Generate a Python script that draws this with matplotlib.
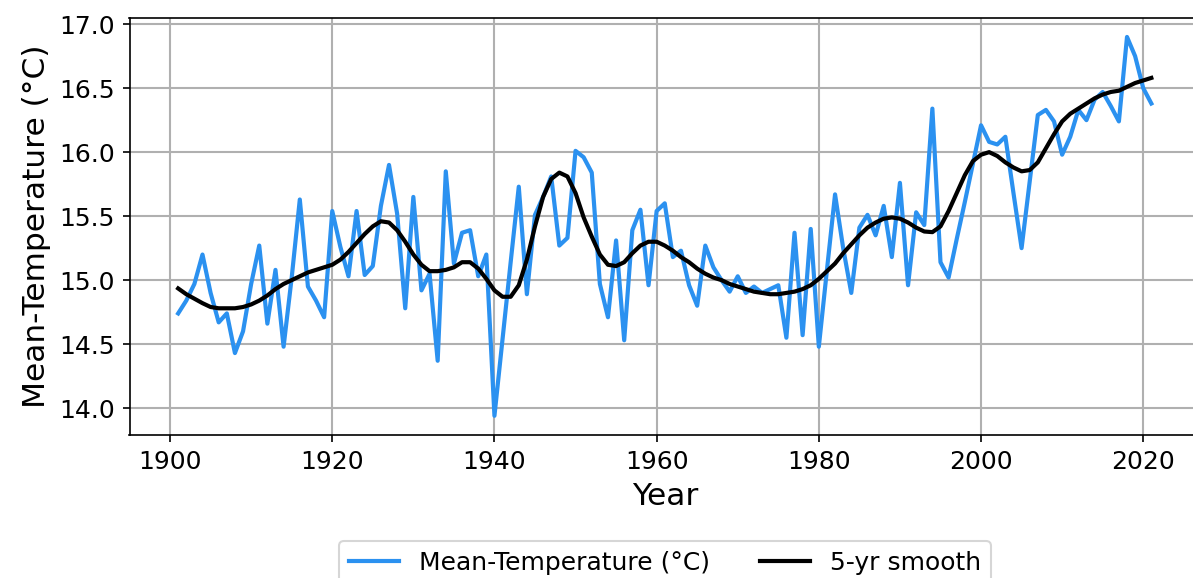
import matplotlib
matplotlib.use("Agg")
import matplotlib.pyplot as plt
import numpy as np

years = list(range(1901, 2022))

mean_temp = [
    14.74, 14.84, 14.97, 15.20, 14.90, 14.67, 14.74, 14.43, 14.60, 14.97,  # 1901-1910
    15.27, 14.66, 15.08, 14.48, 15.02, 15.63, 14.95, 14.84, 14.71, 15.54,  # 1911-1920
    15.26, 15.03, 15.54, 15.04, 15.11, 15.58, 15.90, 15.52, 14.78, 15.65,  # 1921-1930
    14.92, 15.05, 14.37, 15.85, 15.13, 15.37, 15.39, 15.03, 15.20, 13.94,  # 1931-1940
    14.54, 15.14, 15.73, 14.89, 15.51, 15.65, 15.81, 15.27, 15.33, 16.01,  # 1941-1950
    15.96, 15.84, 14.97, 14.71, 15.31, 14.53, 15.39, 15.55, 14.96, 15.54,  # 1951-1960
    15.60, 15.18, 15.23, 14.96, 14.80, 15.27, 15.10, 15.00, 14.91, 15.03,  # 1961-1970
    14.90, 14.95, 14.90, 14.93, 14.96, 14.55, 15.37, 14.57, 15.40, 14.48,  # 1971-1980
    15.08, 15.67, 15.25, 14.90, 15.41, 15.51, 15.35, 15.58, 15.18, 15.76,  # 1981-1990
    14.96, 15.53, 15.43, 16.34, 15.14, 15.02, 15.32, 15.61, 15.91, 16.21,  # 1991-2000
    16.08, 16.06, 16.12, 15.68, 15.25, 15.77, 16.29, 16.33, 16.24, 15.98,  # 2001-2010
    16.12, 16.33, 16.25, 16.41, 16.47, 16.36, 16.24, 16.90, 16.75, 16.50,  # 2011-2020
    16.38,                                                                  # 2021
]

smooth_5yr = [
    14.935, 14.89, 14.855, 14.82, 14.79, 14.78, 14.78, 14.78, 14.79, 14.81,  # 1901-1910
    14.84, 14.88, 14.93, 14.97, 15.00, 15.03, 15.06, 15.08, 15.10, 15.12,    # 1911-1920
    15.16, 15.22, 15.29, 15.36, 15.42, 15.46, 15.45, 15.39, 15.30, 15.20,    # 1921-1930
    15.12, 15.07, 15.07, 15.08, 15.10, 15.14, 15.14, 15.09, 15.01, 14.92,    # 1931-1940
    14.87, 14.87, 14.96, 15.16, 15.42, 15.65, 15.79, 15.84, 15.81, 15.68,    # 1941-1950
    15.49, 15.34, 15.20, 15.12, 15.11, 15.14, 15.21, 15.27, 15.30, 15.30,    # 1951-1960
    15.27, 15.23, 15.18, 15.14, 15.09, 15.05, 15.02, 15.00, 14.97, 14.95,    # 1961-1970
    14.93, 14.91, 14.90, 14.89, 14.89, 14.90, 14.91, 14.93, 14.96, 15.01,    # 1971-1980
    15.07, 15.13, 15.21, 15.28, 15.35, 15.41, 15.45, 15.48, 15.49, 15.48,    # 1981-1990
    15.45, 15.41, 15.38, 15.375, 15.42, 15.54, 15.68, 15.82, 15.93, 15.98,   # 1991-2000
    16.00, 15.97, 15.92, 15.88, 15.85, 15.86, 15.92, 16.03, 16.14, 16.24,    # 2001-2010
    16.30, 16.34, 16.38, 16.42, 16.45, 16.47, 16.48, 16.51, 16.54, 16.56,    # 2011-2020
    16.58,                                                                    # 2021
]

y_ticks = [14.0, 14.5, 15.0, 15.5, 16.0, 16.5, 17.0]
x_ticks = [1900, 1920, 1940, 1960, 1980, 2000, 2020]

W, H, DPI = 1193, 578, 150
fig = plt.figure(figsize=(W / DPI, H / DPI), dpi=DPI)
ax = fig.add_axes([129.5 / W, (H - 435) / H, (1200 - 129.5) / W, (435 - 18) / H])

ax.plot(years, mean_temp, color="#2b91f0", lw=2, label="Mean-Temperature (°C)", zorder=3)
ax.plot(years, smooth_5yr, color="black", lw=2, label="5-yr smooth", zorder=4)

ax.set_xlim(1895, 2027)
ax.set_ylim(13.79, 17.048)
ax.set_xticks(x_ticks)
ax.set_yticks(y_ticks)
ax.set_yticklabels([f"{v:.1f}" for v in y_ticks])
ax.tick_params(labelsize=12)
ax.grid(True, color="#b0b0b0", lw=1.0)
ax.set_axisbelow(True)
ax.set_xlabel("Year", fontsize=15)
ax.set_ylabel("Mean-Temperature (°C)", fontsize=15)

ax.legend(loc="upper center", bbox_to_anchor=(0.5, -0.254), ncol=2,
          fontsize=12, borderaxespad=0, frameon=True)

fig.savefig("out.png", dpi=DPI)
